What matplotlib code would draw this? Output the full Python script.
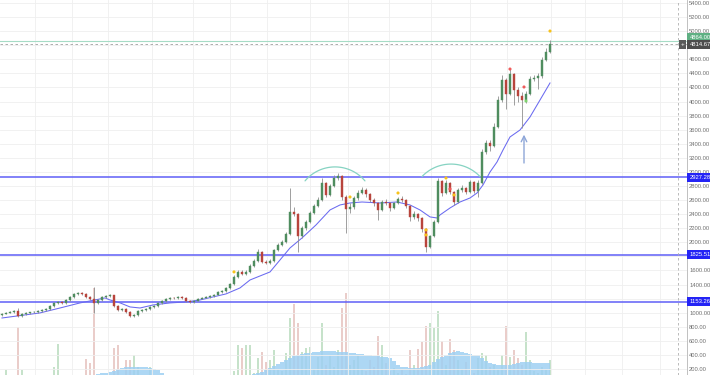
import matplotlib
matplotlib.use("Agg")
import matplotlib.pyplot as plt
import numpy as np

# ---------------- data ----------------
opens = [970, 982, 997, 1011, 1025, 954, 982, 997, 1004, 1011,
         1025, 1040, 1054, 1096, 1139, 1153, 1139, 1181, 1224, 1267,
         1281, 1267, 1224, 1196, 1139, 1181, 1224, 1238, 1245, 1096,
         1040, 1054, 1011, 954, 968, 1025, 1040, 1054, 1082, 1096,
         1139, 1167, 1196, 1210, 1203, 1224, 1210, 1167, 1153, 1167,
         1196, 1210, 1224, 1238, 1252, 1295, 1309, 1352, 1408, 1508,
         1579, 1551, 1579, 1664, 1735, 1863, 1721, 1707, 1735, 1891,
         1962, 2005, 2120, 2431, 2403, 2090, 2204, 2290, 2417, 2516,
         2602, 2843, 2673, 2800, 2914, 2943, 2644, 2474, 2502, 2630,
         2701, 2744, 2687, 2602, 2559, 2460, 2573, 2559, 2488, 2559,
         2616, 2602, 2516, 2361, 2403, 2346, 2190, 1934, 2090, 2290,
         2872, 2701, 2843, 2715, 2573, 2744, 2772, 2715, 2857, 2730,
         2843, 3284, 3411, 3369, 3639, 4022, 4306, 4107, 4392, 4164,
         4079, 4022, 4107, 4320, 4335, 4363, 4590, 4704]
closes = [982, 997, 1011, 1025, 954, 982, 997, 1004, 1011, 1025,
          1040, 1054, 1096, 1139, 1153, 1139, 1181, 1224, 1267, 1281,
          1267, 1224, 1196, 1139, 1181, 1224, 1238, 1245, 1096, 1040,
          1054, 1011, 954, 968, 1025, 1040, 1054, 1082, 1096, 1139,
          1167, 1196, 1210, 1203, 1224, 1210, 1167, 1153, 1167, 1196,
          1210, 1224, 1238, 1252, 1295, 1309, 1352, 1408, 1508, 1579,
          1551, 1579, 1664, 1735, 1863, 1721, 1707, 1735, 1891, 1962,
          2005, 2120, 2431, 2403, 2090, 2204, 2290, 2417, 2516, 2602,
          2843, 2673, 2800, 2914, 2943, 2644, 2474, 2502, 2630, 2701,
          2744, 2687, 2602, 2559, 2460, 2573, 2559, 2488, 2559, 2616,
          2602, 2516, 2361, 2403, 2346, 2190, 1934, 2090, 2290, 2872,
          2701, 2843, 2715, 2573, 2744, 2772, 2715, 2857, 2730, 2843,
          3284, 3411, 3369, 3639, 4022, 4306, 4107, 4392, 4164, 4079,
          4022, 4107, 4320, 4335, 4363, 4590, 4704, 4815]
highs = [995, 1008, 1022, 1040, 1068, 992, 1008, 1015, 1022, 1035,
         1052, 1066, 1110, 1152, 1170, 1165, 1195, 1240, 1282, 1300,
         1295, 1280, 1236, 1366, 1195, 1236, 1255, 1262, 1255, 1105,
         1068, 1062, 1020, 980, 1035, 1050, 1065, 1092, 1108, 1150,
         1180, 1208, 1222, 1225, 1238, 1235, 1220, 1175, 1178, 1206,
         1220, 1235, 1250, 1265, 1308, 1325, 1368, 1425, 1530, 1610,
         1600, 1600, 1685, 1760, 1900, 1880, 1745, 1760, 1910, 1990,
         2040, 2150, 2770, 2500, 2420, 2230, 2320, 2440, 2540, 2640,
         2914, 2860, 2830, 2950, 2985, 2955, 2670, 2560, 2660, 2740,
         2780, 2770, 2700, 2630, 2580, 2600, 2610, 2575, 2580, 2650,
         2660, 2620, 2530, 2440, 2420, 2360, 2200, 2110, 2320, 2914,
         2890, 2880, 2860, 2730, 2770, 2810, 2790, 2890, 2870, 2880,
         3330, 3460, 3450, 3700, 4080, 4380, 4330, 4480, 4410, 4200,
         4130, 4150, 4360, 4380, 4400, 4640, 4760, 4880]
lows = [960, 975, 990, 1003, 940, 945, 972, 988, 995, 1002,
        1015, 1030, 1045, 1088, 1126, 1128, 1130, 1172, 1215, 1255,
        1255, 1210, 1180, 997, 1125, 1170, 1212, 1228, 1085, 1025,
        1030, 998, 935, 940, 960, 1015, 1030, 1045, 1072, 1088,
        1130, 1158, 1186, 1194, 1195, 1200, 1155, 1140, 1145, 1160,
        1188, 1202, 1215, 1230, 1245, 1285, 1300, 1342, 1398, 1495,
        1530, 1540, 1570, 1650, 1725, 1700, 1690, 1695, 1725, 1875,
        1945, 1990, 2100, 2370, 1863, 2060, 2180, 2270, 2400, 2495,
        2590, 2640, 2655, 2780, 2880, 2600, 2134, 2420, 2480, 2600,
        2680, 2650, 2570, 2520, 2318, 2440, 2530, 2440, 2470, 2540,
        2580, 2490, 2300, 2330, 2310, 2150, 1863, 1920, 2070, 2270,
        2660, 2680, 2690, 2530, 2560, 2720, 2690, 2700, 2700, 2640,
        2830, 3260, 3300, 3350, 3620, 3990, 3900, 4090, 3950, 3990,
        3625, 3980, 4090, 4290, 4180, 4340, 4570, 4690]
volumes = [14, 25, 16, 15, 68, 25, 14, 13, 15, 14,
           16, 15, 18, 28, 51, 17, 15, 16, 14, 18,
           19, 36, 32, 107, 19, 17, 16, 18, 47, 50,
           19, 35, 35, 40, 28, 17, 16, 28, 15, 14,
           16, 15, 14, 13, 15, 14, 16, 15, 13, 14,
           15, 14, 16, 15, 17, 16, 18, 19, 24, 50,
           47, 50, 50, 22, 37, 43, 33, 35, 45, 26,
           24, 42, 77, 91, 72, 43, 47, 48, 26, 38,
           72, 30, 40, 28, 45, 87, 102, 30, 35, 40,
           26, 24, 35, 28, 59, 50, 32, 24, 27, 22,
           25, 21, 45, 30, 46, 53, 69, 72, 67, 84,
           54, 30, 56, 45, 35, 26, 33, 25, 22, 37,
           42, 40, 28, 30, 26, 40, 69, 38, 45, 37,
           30, 63, 35, 24, 22, 28, 25, 35]
volume_ma = [15, 15, 15, 16, 16, 16, 16, 17, 17, 17,
             17, 17, 17, 18, 18, 18, 18, 18, 18, 18,
             19, 19, 19, 20, 21, 22, 22, 23, 24, 26,
             27, 28, 28, 28, 28, 28, 28, 27, 26, 25,
             22, 20, 19, 18, 18, 17, 17, 17, 16, 16,
             16, 16, 16, 16, 17, 17, 17, 17, 18, 18,
             19, 19, 20, 21, 22, 23, 25, 27, 29, 31,
             33, 35, 37, 39, 40, 41, 42, 42, 43, 43,
             44, 44, 44, 44, 43, 43, 43, 42, 42, 41,
             41, 40, 40, 39, 39, 38, 38, 37, 34, 30,
             28, 28, 27, 27, 27, 28, 29, 30, 33, 36,
             38, 40, 42, 43, 44, 43, 42, 41, 40, 40,
             37, 34, 32, 31, 30, 30, 30, 30, 31, 32,
             33, 33, 33, 32, 32, 32, 32, 32]
ma_idx = [0, 9.5, 14.5, 19.5, 25.75, 27, 29.5, 32, 34.5, 37.75, 42, 46, 49.5,
          52.75, 56, 59.5, 62, 67, 72, 75, 78.5, 82, 84.5, 87, 90, 94.5, 98.75,
          102, 104.5, 107, 108.75, 109.5, 112, 114.5, 117, 118.75, 120.25, 122,
          123.75, 125.25, 127, 129.5, 132, 134.5, 137]
ma_values = [925, 997, 1067, 1139, 1210, 1181, 1140, 1082, 1067, 1110, 1139,
             1153, 1181, 1224, 1267, 1352, 1465, 1579, 1920, 2062, 2247, 2460,
             2531, 2559, 2573, 2559, 2573, 2531, 2460, 2361, 2346, 2389, 2488,
             2573, 2630, 2701, 2815, 2999, 3141, 3312, 3497, 3596, 3781, 4022,
             4264]
level_lines = [2927.28, 1825.51, 1153.26]
last_price = 4814.67
session_high = 4864.0
marker_idx = [58, 87, 99, 106, 106, 111, 112, 113, 127, 130.5, 131, 137]
marker_price = [1580, 2644, 2701, 2176, 2105, 2914, 2758, 2673, 4462, 4207, 4008, 5002]
marker_color = ['#f7c21b', '#f7c21b', '#f7c21b', '#f7c21b', '#f7c21b', '#f7c21b',
                '#ef5b5b', '#f7c21b', '#ef5b5b', '#ef5b5b', '#7fd36f', '#f7c21b']
price_ticks = list(range(200, 5401, 200))
hidden_ticks = [1800, 4800]   # covered by price boxes in the reference

# ---------------- figure ----------------
W, H = 710, 375
fig = plt.figure(figsize=(W / 100, H / 100), dpi=100)
fig.patch.set_facecolor('white')
ax = fig.add_axes([0, 0, 687 / W, 1])
ax2 = ax.twinx()
ax.set_zorder(ax2.get_zorder() + 1)
ax.patch.set_visible(False)

n = len(closes)
idx = list(range(n))
XMIN, XMAX = -0.5, 171.25
ax.set_xlim(XMIN, XMAX)
ax.set_ylim(115, 5443)

# grid
for p in price_ticks:
    ax.axhline(p, color='#efefef', lw=0.6, zorder=0)
vgrid = [8.25, 17.5, 26.5, 37.5, 47.75, 57, 66.25, 77, 86.5, 96.75, 107.25,
         117, 126.25, 137.25, 145.75, 155, 164.5]
for g in vgrid:
    ax.axvline(g, color='#efefef', lw=0.6, zorder=0)

# volume pane (base lies below the visible area)
up = '#4f8d5f'
dn = '#b8443c'
vcols = ['#c6e2ca' if c >= o else '#eacdca' for o, c in zip(opens, closes)]
ax2.bar(idx, volumes, width=0.72, color=vcols, zorder=1)
ax2.fill_between(idx, 0, volume_ma, step='mid', color='#9fd0f3', alpha=0.85,
                 lw=0, zorder=2)
ax2.set_ylim(20, 395)
ax2.set_xlim(XMIN, XMAX)
ax2.set_yticks([])
for s in ax2.spines.values():
    s.set_visible(False)

# level lines
for lv in level_lines:
    ax.axhline(lv, color='#5f5ff7', lw=1.1, zorder=3)
ax.axhline(session_high, color='#a6dcc6', lw=0.8, zorder=3)
ax.axhline(last_price, color='#a0a0a0', lw=0.6, ls=(0, (3, 3)), zorder=3)
ax.axvline(169, color='#b0b0b0', lw=0.6, ls=(0, (3, 3)), zorder=3)

# moving average
ax.plot(ma_idx, ma_values, color='#6a6af0', lw=0.75, zorder=4)

# candles
ccols = [up if c >= o else dn for o, c in zip(opens, closes)]
ax.vlines(idx, lows, highs, color='#8f8f8f', lw=0.6, zorder=5)
bottoms = [min(o, c) for o, c in zip(opens, closes)]
heights = [max(abs(c - o), 8) for o, c in zip(opens, closes)]
ax.bar(idx, heights, bottom=bottoms, width=0.72, color=ccols,
       edgecolor=ccols, lw=0.3, zorder=6)

# markers
ax.scatter(marker_idx, marker_price, s=5, c=marker_color, lw=0, zorder=7)

# arcs (circular in screen space: 4 px per bar, 0.0704 px per price unit)
def draw_arc(cx, cy, r_px, t1, t2):
    t = np.radians(np.linspace(t1, t2, 60))
    ax.plot(cx + (r_px / 4.0) * np.cos(t), cy + (r_px / 0.0704) * np.sin(t),
            color='#86d3c2', lw=0.9, zorder=4, solid_capstyle='round')


draw_arc(83.25, 2516, 39.1, 40, 140)
draw_arc(112.25, 2545, 39.9, 43.4, 136.6)

# arrow
ax.annotate('', xy=(130.5, 3530), xytext=(130.5, 3127),
            arrowprops=dict(arrowstyle='->', color='#8ea6d8', lw=1.0,
                            shrinkA=0, shrinkB=0), zorder=6)

# axis styling
FONT = 'Liberation Sans'
ax.set_xticks([])
ax.yaxis.tick_right()
shown = [p for p in price_ticks if p not in hidden_ticks]
ax.set_yticks(shown)
ax.set_yticklabels([f"{p:.2f}" for p in shown], family=FONT)
ax.tick_params(axis='y', length=0, pad=1.6, labelsize=4.2, labelcolor='#707070')
for name, s in ax.spines.items():
    s.set_visible(name == 'right')
ax.spines['right'].set_color('#b5b5b5')
ax.spines['right'].set_linewidth(0.6)

tr = ax.get_yaxis_transform()


def price_box(y, text, fc, x=1.0035):
    ax.annotate(text, xy=(x, y), xycoords=tr, ha='left', va='center',
                fontsize=4.2, family=FONT, color='white', annotation_clip=False,
                zorder=10,
                bbox=dict(boxstyle='square,pad=0.35', fc=fc, ec='none'))


for lv in level_lines:
    price_box(lv, f"{lv:.2f}", '#2424f5')
price_box(session_high + 45, f"{session_high:.2f}", '#5fb083')
price_box(last_price, f"{last_price:.2f}", '#4d4d4d')
ax.annotate('+', xy=(0.9935, last_price), xycoords=tr, ha='center', va='center',
            fontsize=4.5, family=FONT, color='white', annotation_clip=False,
            zorder=10,
            bbox=dict(boxstyle='square,pad=0.3', fc='#5a5a5a', ec='none'))

fig.savefig('out.png', dpi=100, facecolor='white')
